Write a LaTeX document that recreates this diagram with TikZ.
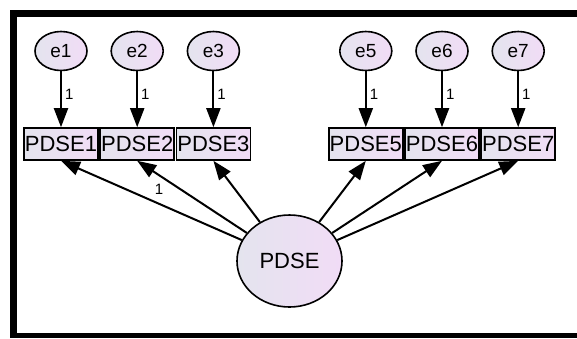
\documentclass[tikz,border=0pt]{standalone}
\usepackage{fontspec}
\setmainfont{Liberation Sans}
\usetikzlibrary{shapes.geometric,arrows.meta}
\definecolor{lavgray}{RGB}{228,228,238}
\definecolor{lavpink}{RGB}{241,220,246}
\begin{document}
\begin{tikzpicture}[x=1pt,y=-1pt,
    errvar/.style={ellipse,draw,line width=1.6pt,left color=lavgray,right color=lavpink,
        minimum width=52pt,minimum height=39pt,inner sep=0pt,font=\fontsize{19}{21}\selectfont},
    obsvar/.style={rectangle,draw,line width=1.6pt,left color=lavgray,right color=lavpink,
        minimum width=74pt,minimum height=32pt,inner sep=0pt,font=\fontsize{22}{24}\selectfont},
    latent/.style={ellipse,draw,line width=1.6pt,left color=lavgray,right color=lavpink,
        minimum width=105pt,minimum height=92pt,inner sep=0pt,font=\fontsize{22}{24}\selectfont},
    regpath/.style={line width=2pt,-{Triangle[length=19pt,width=14pt]}},
    onelab/.style={inner sep=0pt,font=\fontsize{15}{17}\selectfont}]
\useasboundingbox (0,0) rectangle (577,338);
\fill (10,10) rectangle (577,17);
\fill (10,10) rectangle (17,338);
\fill (10,333) rectangle (577,338);
\node[latent] (PDSE) at (289.5,261) {PDSE};
\foreach \i in {1,2,3,5,6,7} {
    \node[errvar] (e\i) at ({61+76.2*(\i-1)},51) {e\i};
    \node[obsvar] (PDSE\i) at ({61+76.2*(\i-1)},144) {PDSE\i};
    \draw[regpath] (e\i) -- node[pos=0.42,right=3pt,onelab] {1} (PDSE\i);
    \ifnum\i=2\relax
        \draw[regpath] (PDSE) -- node[pos=0.8,below=8pt,onelab] {1} (PDSE\i.south);
    \else
        \draw[regpath] (PDSE) -- (PDSE\i.south);
    \fi
}
\end{tikzpicture}
\end{document}
